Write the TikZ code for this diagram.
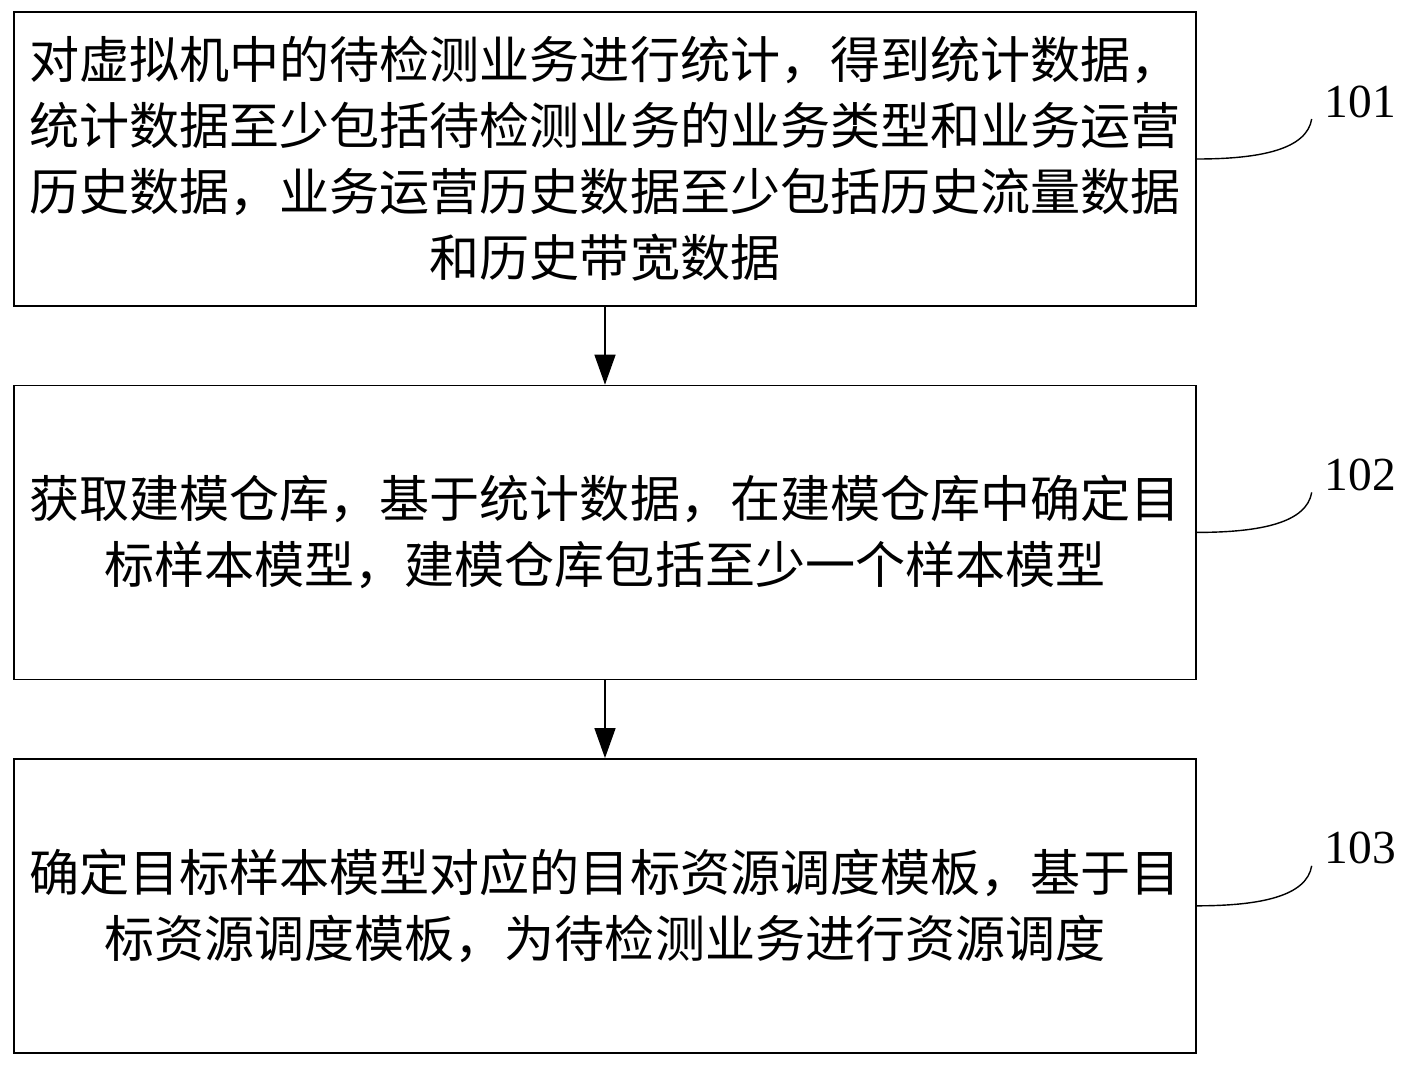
\documentclass[tikz,border=0pt]{standalone}
\usepackage{fontspec}
\setmainfont{Liberation Serif}
\newfontfamily\cjk{Noto Sans CJK SC}
\usetikzlibrary{positioning,arrows.meta}

\begin{document}
\begin{tikzpicture}[
		stepbox/.style={draw=black, line width=0.8pt, minimum width=23.64cm, minimum height=5.88cm,
				align=center, font=\cjk\fontsize{28.5}{37.5}\selectfont, inner sep=0pt},
		flow/.style={-{Triangle[length=0.6cm,width=0.42cm]}, line width=0.8pt},
		tag/.style={font=\fontsize{27}{30}\selectfont, anchor=west, inner sep=0pt}
	]
	\useasboundingbox (0,0) rectangle (28.22,-21.3);

	% steps
	\node[stepbox] (s1) at (12.1,-3.18) {对虚拟机中的待检测业务进行统计，得到统计数据，\\
		统计数据至少包括待检测业务的业务类型和业务运营\\
		历史数据，业务运营历史数据至少包括历史流量数据\\
		和历史带宽数据};
	\node[stepbox, below=1.56cm of s1] (s2) {获取建模仓库，基于统计数据，在建模仓库中确定目\\
		标样本模型，建模仓库包括至少一个样本模型};
	\node[stepbox, below=1.56cm of s2] (s3) {确定目标样本模型对应的目标资源调度模板，基于目\\
		标资源调度模板，为待检测业务进行资源调度};

	\draw[flow] (s1) -- (s2);
	\draw[flow] (s2) -- (s3);

	% tags
	\foreach \s/\n in {s1/101, s2/102, s3/103}{
		\coordinate (\s end) at ([xshift=2.3cm, yshift=0.8cm]\s.east);
		\node[tag] (t\n) at ([xshift=0.25cm, yshift=0.35cm]\s end) {\n};
		\draw[line width=0.8pt] (\s.east) .. controls +(1.3,0) and +(-0.1,-0.6) .. (\s end);
	}
\end{tikzpicture}
\end{document}
